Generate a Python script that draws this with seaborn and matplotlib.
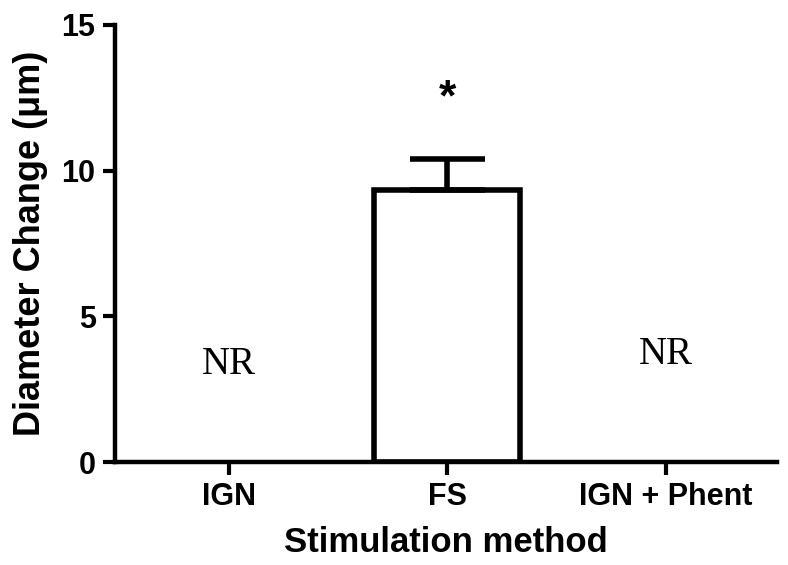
import matplotlib
matplotlib.use("Agg")
import matplotlib.pyplot as plt
import seaborn as sns
import pandas as pd
import numpy as np

categories = ["IGN", "FS", "IGN + Phent"]
means = [0.0, 9.35, 0.0]
sem = [0.0, 1.05, 0.0]
nr_labels = ["NR", "", "NR"]
nr_y = [3.35, None, 3.7]
sig_mark = ["", "*", ""]
sig_y = [None, 12.45, None]

sns.set_theme(style="ticks")
plt.rcParams['font.family'] = ['Liberation Sans', 'DejaVu Sans']
plt.rcParams['text.color'] = 'black'
plt.rcParams['axes.labelcolor'] = 'black'

df = pd.DataFrame({"method": categories, "value": means})

fig = plt.figure(figsize=(7.88, 5.65), dpi=100)
ax = fig.add_axes([0.146, 0.182, 0.84, 0.774])

sns.barplot(data=df, x="method", y="value", order=categories, ax=ax,
            color="white", edgecolor="black", linewidth=4.0, width=0.67,
            errorbar=None)
for i, p in enumerate(ax.patches):
    if means[i] == 0:
        p.set_visible(False)

xs = np.arange(len(categories))
for i in range(len(categories)):
    if sem[i] > 0:
        ax.errorbar(xs[i], means[i], yerr=[[0], [sem[i]]], fmt="none",
                    ecolor="black", elinewidth=4.0, capsize=27, capthick=4.0,
                    zorder=1)
    if nr_labels[i]:
        ax.text(xs[i], nr_y[i], nr_labels[i], ha="center", va="center",
                fontsize=28, family="Liberation Serif", color="black")
    if sig_mark[i]:
        ax.text(xs[i], sig_y[i], sig_mark[i], ha="center", va="center",
                fontsize=32, fontweight="bold", color="black")

ax.set_ylim(0, 15)
ax.set_xlim(-0.52, 2.51)
ax.set_yticks([0, 5, 10, 15])
ax.set_yticklabels(["0", "5", "10", "15"])
ax.tick_params(axis="both", direction="out", length=9, width=3.0,
               labelsize=22, colors="black", pad=5)
for lab in ax.get_xticklabels() + ax.get_yticklabels():
    lab.set_fontweight("bold")
ax.set_xlabel("Stimulation method", fontsize=25, fontweight="bold", labelpad=10)
ax.set_ylabel("Diameter Change (μm)", fontsize=26, fontweight="bold", labelpad=10)
for s in ["top", "right"]:
    ax.spines[s].set_visible(False)
for s in ["left", "bottom"]:
    ax.spines[s].set_linewidth(3.2)
    ax.spines[s].set_color("black")

fig.savefig("out.png", dpi=100)
